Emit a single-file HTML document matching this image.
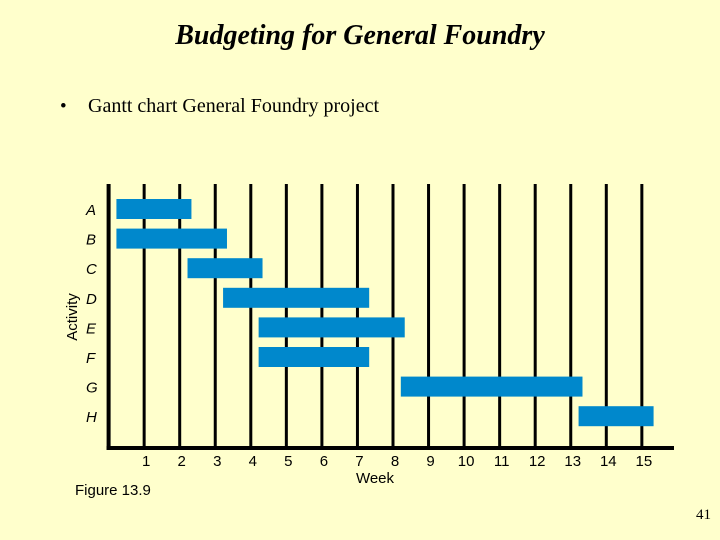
<!DOCTYPE html>
<html><head><meta charset="utf-8"><style>
body{margin:0;width:720px;height:540px;background:#FFFFCC;overflow:hidden;position:relative;}
.t{position:absolute;white-space:nowrap;}
</style></head><body>
<div class="t" style="left:0;width:720px;text-align:center;top:20px;font:italic bold 28px 'Liberation Serif',serif;">Budgeting for General Foundry</div>
<div class="t" style="left:60px;top:96px;font:19px 'Liberation Serif',serif;">•</div>
<div class="t" style="left:88px;top:95px;font:20px 'Liberation Serif',serif;">Gantt chart General Foundry project</div>
<div class="t" style="left:75px;top:482px;font:15px 'Liberation Sans',sans-serif;">Figure 13.9</div>
<div class="t" style="left:696px;top:507px;font:15px 'Liberation Serif',serif;">41</div>
<svg id="chart" width="720" height="540" style="position:absolute;left:0;top:0;"></svg>
<script>
const activities=["A","B","C","D","E","F","G","H"];
const starts=[0,0,2,3,4,4,8,13];
const ends=[2,3,4,7,8,7,13,15];
const weekTicks=["1","2","3","4","5","6","7","8","9","10","11","12","13","14","15"];
const svg=document.getElementById('chart');
const NS='http://www.w3.org/2000/svg';
const x0=108.6,u=35.55;
function xs(w){return x0+u*w;}
function ys(i){return 199+i*29.6;}
function mk(t,a){const e=document.createElementNS(NS,t);for(const k in a)e.setAttribute(k,a[k]);svg.appendChild(e);return e;}
weekTicks.forEach((lab,i)=>{
 const l=mk('line',{x1:xs(i+1),x2:xs(i+1),y1:184,y2:448,stroke:'#000','stroke-width':3});
 
 
 const t=mk('text',{x:xs(i+1)+2,y:466,'text-anchor':'middle','font-family':'Liberation Sans, sans-serif','font-size':15});
 t.textContent=lab;
 
 
});
const ya=mk('line',{x1:x0,x2:x0,y1:184,y2:450,stroke:'#000','stroke-width':4});


const xa=mk('line',{x1:x0-2,x2:674,y1:448,y2:448,stroke:'#000','stroke-width':4});


activities.forEach((a,i)=>{
 const t=mk('text',{x:86,y:ys(i)+16,'font-family':'Liberation Sans, sans-serif','font-size':15,'font-style':'italic'});
 t.textContent=a;
 
 
 const x1=xs(starts[i])+u*0.22,x2=xs(ends[i])+u*0.33;
 const r=mk('rect',{x:x1,y:ys(i),width:x2-x1,height:20,fill:'#0088CC'});
 
 
});
const w=mk('text',{x:375,y:483,'text-anchor':'middle','font-family':'Liberation Sans, sans-serif','font-size':15});
w.textContent='Week';


const ac=mk('text',{x:77,y:317,'text-anchor':'middle','font-family':'Liberation Sans, sans-serif','font-size':15,transform:'rotate(-90 77 317)'});
ac.textContent='Activity';


</script>
</body></html>
